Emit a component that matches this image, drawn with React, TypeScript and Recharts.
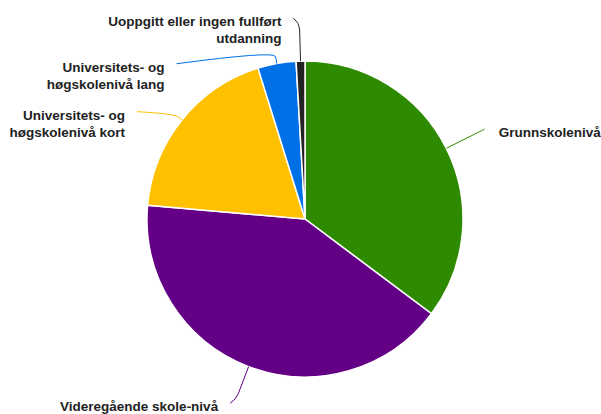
import { Pie, PieChart, Cell } from "recharts";

const categories = [
  "Grunnskolenivå",
  "Videregående skole-nivå",
  "Universitets- og høgskolenivå kort",
  "Universitets- og høgskolenivå lang",
  "Uoppgitt eller ingen fullført utdanning",
];
const shares = [35.2, 41.1, 18.8, 3.9, 0.9];
const labelLines = [
  ["Grunnskolenivå"],
  ["Videregående skole-nivå"],
  ["Universitets- og", "høgskolenivå kort"],
  ["Universitets- og", "høgskolenivå lang"],
  ["Uoppgitt eller ingen fullført", "utdanning"],
];

const colors = ["#2e8a00", "#640085", "#ffc000", "#0070e6", "#222222"];
// leader line layout per slice: radial run, then offset to the text
const leaders = [
  { radial: 43, dx: 0, dy: 0 },
  { radial: 35, dx: -6, dy: 4 },
  { radial: 10, dx: -37, dy: -2 },
  { radial: 13, dx: -98, dy: 13 },
  { radial: 38, dx: -6, dy: -5 },
];

const data = categories.map((name, i) => ({ name, value: shares[i] }));
const RAD = Math.PI / 180;

function renderLabel(props: any) {
  const { cx, cy, midAngle, outerRadius, index } = props;
  const cos = Math.cos(-midAngle * RAD);
  const sin = Math.sin(-midAngle * RAD);
  const l = leaders[index];
  const sx = cx + outerRadius * cos;
  const sy = cy + outerRadius * sin;
  const ex = cx + (outerRadius + l.radial) * cos;
  const ey = cy + (outerRadius + l.radial) * sin;
  const bend = Math.min(6, l.radial / 2);
  const px = cx + (outerRadius + l.radial - bend) * cos;
  const py = cy + (outerRadius + l.radial - bend) * sin;
  const tx = ex + l.dx;
  const ty = ey + l.dy;
  const right = tx > cx;
  const textX = right ? tx + 14 : tx - 12;
  return (
    <g key={"lbl" + index}>
      <path
        d={`M${sx},${sy} L${px},${py} Q${ex},${ey} ${tx},${ty}`}
        stroke={colors[index]}
        strokeWidth={1}
        fill="none"
      />
      <text
        x={textX}
        y={ty + 8}
        textAnchor={right ? "start" : "end"}
        fill="#222222"
        fontSize={13.5}
        fontWeight="bold"
        fontFamily="'Liberation Sans', Arial, sans-serif"
      >
        {labelLines[index].map((line, j) => (
          <tspan key={j} x={textX} dy={j === 0 ? 0 : 17}>
            {line}
          </tspan>
        ))}
      </text>
    </g>
  );
}

export default function App() {
  return (
    <div style={{ position: "absolute", left: 0, top: 0, background: "#fff" }}>
      <PieChart width={601} height={414}>
        <Pie
          data={data}
          dataKey="value"
          nameKey="name"
          cx={300}
          cy={214}
          outerRadius={158}
          startAngle={90}
          endAngle={-270}
          stroke="#ffffff"
          strokeWidth={1.5}
          label={renderLabel}
          labelLine={false}
          isAnimationActive={false}
        >
          {data.map((d, i) => (
            <Cell key={d.name} fill={colors[i]} />
          ))}
        </Pie>
      </PieChart>
    </div>
  );
}
